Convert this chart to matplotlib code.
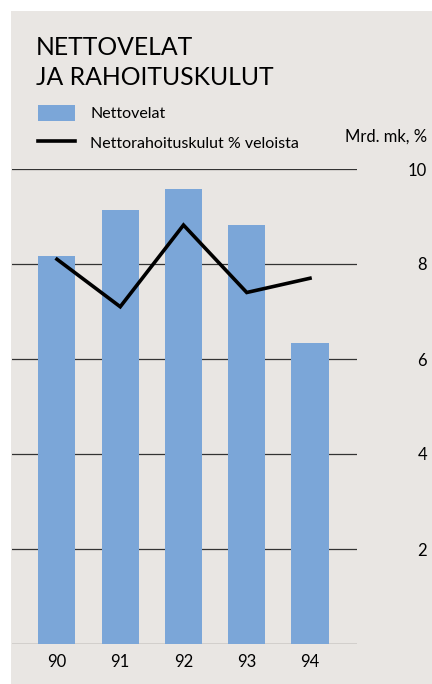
import numpy as np
import matplotlib
matplotlib.use("Agg")
import matplotlib.pyplot as plt
from matplotlib.patches import Rectangle

years = ["90", "91", "92", "93", "94"]
nettovelat = [8.17, 9.14, 9.58, 8.82, 6.34]          # Mrd. mk
rahoituskulut = [8.10, 7.10, 8.82, 7.40, 7.70]       # % veloista
yticks = [2, 4, 6, 8, 10]

bg = "#e9e6e3"
blue = "#7ba6d8"
plt.rcParams["font.family"] = ["Lato", "DejaVu Sans"]

W, H = 432, 684
fig = plt.figure(figsize=(W / 100, H / 100), dpi=100, facecolor="white")
fig.patches.append(Rectangle((11 / W, 0), 1 - 11 / W, 1 - 11 / H,
                             transform=fig.transFigure, facecolor=bg,
                             edgecolor="none", zorder=-5))

ax = fig.add_axes([12 / W, 1 - 644 / H, 345 / W, (644 - 169) / H])
ax.set_facecolor("none")
x = np.arange(len(years))
bars = ax.bar(x, nettovelat, width=0.585, color=blue, zorder=2, label="Nettovelat")
line, = ax.plot(x, rahoituskulut, color="black", lw=2.6, zorder=3,
                solid_joinstyle="miter", label="Nettorahoituskulut % veloista")

for v in [0] + yticks:
    ax.axhline(v, color="#333333", lw=0.9, zorder=1)

ax.set_xlim(-0.711, 4.743)
ax.set_ylim(0, 10)
for s in ax.spines.values():
    s.set_visible(False)
ax.set_xticks(x)
ax.set_xticklabels(years, fontsize=12)
ax.yaxis.tick_right()
ax.set_yticks(yticks)
ax.set_yticklabels([str(v) for v in yticks], fontsize=12, ha="right")
ax.tick_params(axis="y", length=0, pad=50.4)
ax.tick_params(axis="x", length=0, pad=7)

# title, two lines
fig.text(36 / W, 1 - 55 / H, "NETTOVELAT", fontsize=17.8,
         va="baseline", ha="left")
fig.text(36 / W, 1 - 85 / H, "JA RAHOITUSKULUT", fontsize=17.8,
         va="baseline", ha="left")
fig.text(427 / W, 1 - 137 / H, "Mrd. mk, %", fontsize=12, ha="right", va="center")

fig.legend(handles=[bars, line], loc="upper left",
           bbox_to_anchor=(25 / W, 1 - 92 / H), frameon=False, fontsize=11.5,
           handlelength=2.32, handleheight=1.2, handletextpad=0.95,
           labelspacing=0.8, borderpad=0.3)

fig.savefig("out.png", dpi=100, facecolor="white")
